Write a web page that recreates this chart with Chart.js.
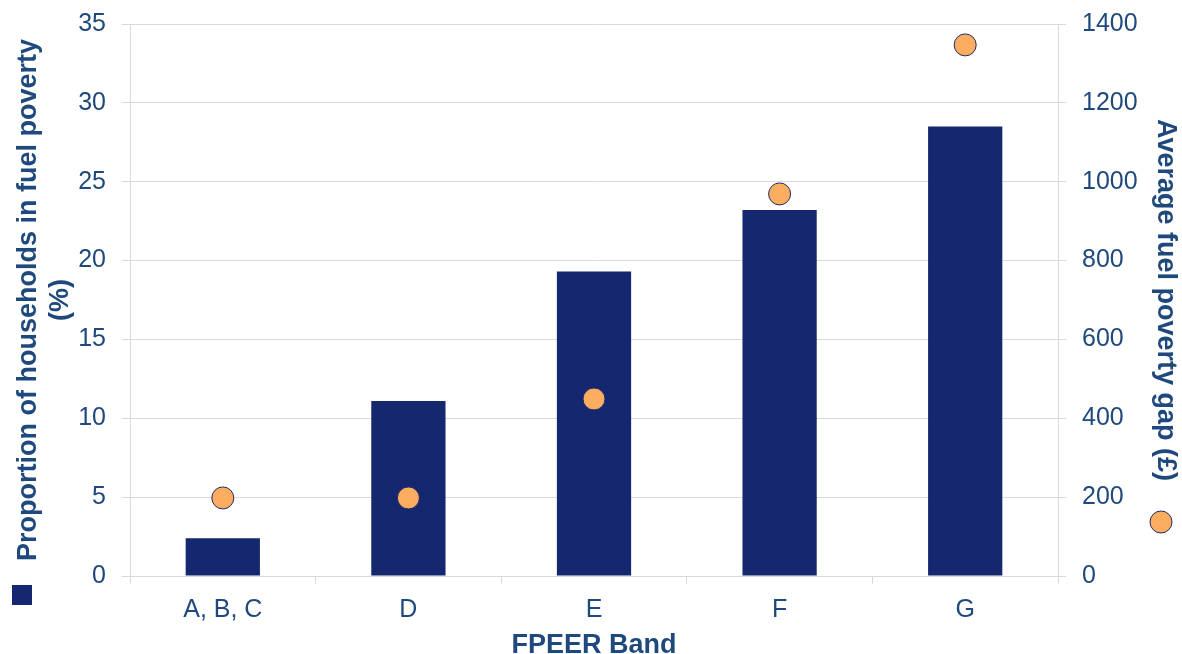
<!DOCTYPE html>
<html>
<head>
<meta charset="utf-8">
<script src="https://cdn.jsdelivr.net/npm/chart.js@4"></script>
<style>
  html, body { margin: 0; padding: 0; background: #fff; }
  #wrap { width: 1182px; height: 654px; }
</style>
</head>
<body>
<div id="wrap"><canvas id="fuelChart" width="1182" height="654"></canvas></div>
<script>
// data
var bands = ['A, B, C', 'D', 'E', 'F', 'G'];
var proportionPct = [2.4, 11.1, 19.3, 23.2, 28.5];
var avgGapGBP = [198, 198, 449, 969, 1347];
var leftTicks = [0, 5, 10, 15, 20, 25, 30, 35];
var rightTicks = [0, 200, 400, 600, 800, 1000, 1200, 1400];

var textColor = '#1F497D';
var barColor = '#15286F';
var dotColor = '#FDAD60';
var gridColor = '#D9D9D9';
var fontFamily = '"Liberation Sans", Arial, sans-serif';

// little legend keys next to the axis titles, like the original
var legendKeys = {
  id: 'legendKeys',
  afterDraw: function(chart) {
    var ctx = chart.ctx;
    var area = chart.chartArea;
    ctx.save();
    ctx.fillStyle = barColor;
    ctx.fillRect(12, area.bottom + 9, 20, 20);
    ctx.beginPath();
    ctx.arc(chart.width - 21, area.bottom - 54, 11, 0, Math.PI * 2);
    ctx.fillStyle = dotColor;
    ctx.fill();
    ctx.lineWidth = 1;
    ctx.strokeStyle = '#1F2A6B';
    ctx.stroke();
    ctx.restore();
  }
};

var chart = new Chart(document.getElementById('fuelChart'), {
  data: {
    labels: bands,
    datasets: [
      {
        type: 'line',
        label: 'Average fuel poverty gap (£)',
        data: avgGapGBP,
        yAxisID: 'y1',
        showLine: false,
        pointRadius: 11,
        pointHoverRadius: 11,
        pointBackgroundColor: dotColor,
        pointBorderColor: '#1F2A6B',
        pointBorderWidth: 1,
        order: 0
      },
      {
        type: 'bar',
        label: 'Proportion of households in fuel poverty (%)',
        data: proportionPct,
        yAxisID: 'y',
        backgroundColor: barColor,
        barPercentage: 0.4,
        categoryPercentage: 1.0,
        order: 1
      }
    ]
  },
  options: {
    responsive: false,
    animation: false,
    layout: { padding: { top: 24 } },
    plugins: {
      legend: { display: false },
      tooltip: { enabled: false }
    },
    scales: {
      x: {
        grid: { display: true, drawOnChartArea: false, offset: true, color: gridColor, tickLength: 8 },
        border: { color: gridColor },
        ticks: { color: textColor, font: { family: fontFamily, size: 25 }, padding: 11 },
        title: { display: true, text: 'FPEER Band', color: textColor, font: { family: fontFamily, size: 27, weight: 'bold', lineHeight: 1 }, padding: { top: 4, bottom: -5 } },
        afterFit: function(s) { s.height = 78; }
      },
      y: {
        position: 'left',
        min: 0, max: 35,
        afterBuildTicks: function(s) { s.ticks = leftTicks.map(function(v) { return { value: v }; }); },
        grid: { color: gridColor, tickLength: 8 },
        border: { color: gridColor },
        ticks: { color: textColor, font: { family: fontFamily, size: 25 }, padding: 16 },
        title: { display: true, text: ['Proportion of households in fuel poverty', '(%)'], color: textColor, font: { family: fontFamily, size: 27, weight: 'bold' }, padding: { top: 12, bottom: 0 } },
        afterFit: function(s) { s.width = 130; s.paddingTop = 0; s.paddingBottom = 0; }
      },
      y1: {
        position: 'right',
        min: 0, max: 1400,
        afterBuildTicks: function(s) { s.ticks = rightTicks.map(function(v) { return { value: v }; }); },
        grid: { drawOnChartArea: false, color: gridColor, tickLength: 8 },
        border: { color: gridColor },
        ticks: { color: textColor, font: { family: fontFamily, size: 25 }, padding: 16, callback: function(v) { return String(v); } },
        title: { display: true, text: 'Average fuel poverty gap (£)', color: textColor, font: { family: fontFamily, size: 27, weight: 'bold' }, padding: { top: 0, bottom: 0 } },
        afterFit: function(s) { s.width = 124; s.paddingTop = 0; s.paddingBottom = 0; }
      }
    }
  },
  plugins: [legendKeys]
});
</script>
</body>
</html>
